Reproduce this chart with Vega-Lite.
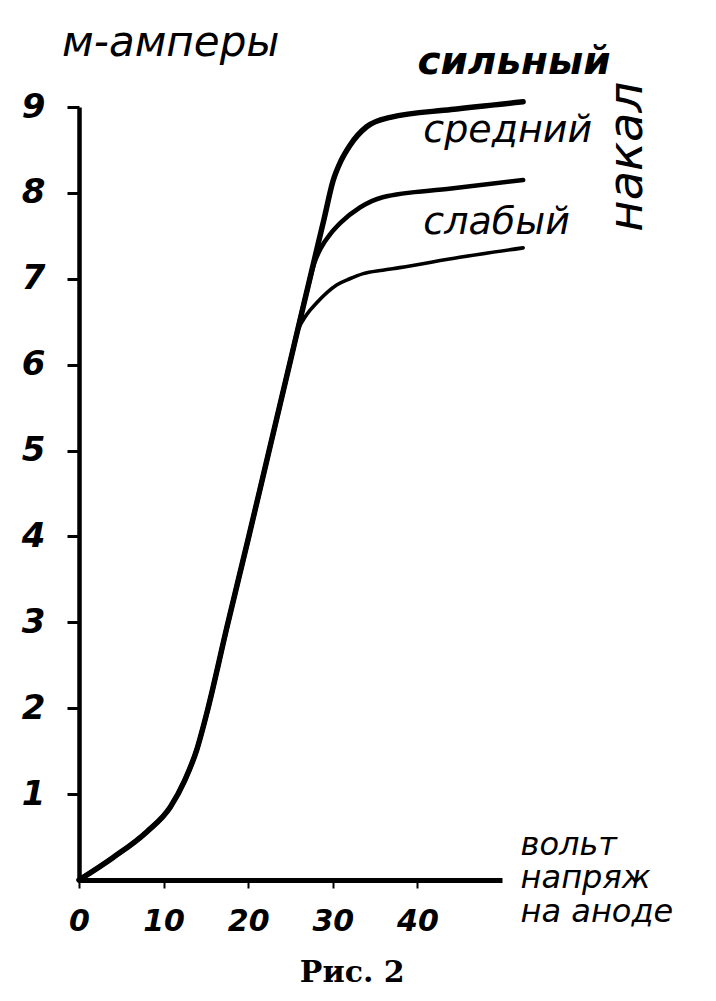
{
  "$schema": "https://vega.github.io/schema/vega-lite/v6.json",
  "width": 423,
  "height": 773,
  "autosize": {"type": "none"},
  "padding": {"left": 79, "top": 107, "right": 214, "bottom": 121},
  "background": "white",
  "view": {"stroke": null},
  "config": {
    "font": "DejaVu Sans",
    "axis": {"grid": false, "domainColor": "black", "tickColor": "black", "labelColor": "black", "labelFont": "DejaVu Sans", "labelFontStyle": "italic", "labelFontWeight": "bold"}
  },
  "layer": [
    {
      "data": {
        "values": [
          {"series": "сильный", "v": 0, "i": 0},
          {"series": "сильный", "v": 4.0, "i": 0.26},
          {"series": "сильный", "v": 8.0, "i": 0.56},
          {"series": "сильный", "v": 10.8, "i": 0.85},
          {"series": "сильный", "v": 12.5, "i": 1.16},
          {"series": "сильный", "v": 13.9, "i": 1.51},
          {"series": "сильный", "v": 15.1, "i": 1.94},
          {"series": "сильный", "v": 17.5, "i": 2.95},
          {"series": "сильный", "v": 20, "i": 3.97},
          {"series": "сильный", "v": 22.5, "i": 5.01},
          {"series": "сильный", "v": 25, "i": 6.05},
          {"series": "сильный", "v": 27.5, "i": 7.09},
          {"series": "сильный", "v": 29, "i": 7.71},
          {"series": "сильный", "v": 30, "i": 8.13},
          {"series": "сильный", "v": 31, "i": 8.38},
          {"series": "сильный", "v": 32, "i": 8.55},
          {"series": "сильный", "v": 34, "i": 8.77},
          {"series": "сильный", "v": 36.8, "i": 8.88},
          {"series": "сильный", "v": 44, "i": 8.97},
          {"series": "сильный", "v": 52.5, "i": 9.06},
          {"series": "средний", "v": 0, "i": 0},
          {"series": "средний", "v": 4.0, "i": 0.26},
          {"series": "средний", "v": 8.0, "i": 0.56},
          {"series": "средний", "v": 10.8, "i": 0.85},
          {"series": "средний", "v": 12.5, "i": 1.16},
          {"series": "средний", "v": 13.9, "i": 1.51},
          {"series": "средний", "v": 15.1, "i": 1.94},
          {"series": "средний", "v": 17.5, "i": 2.95},
          {"series": "средний", "v": 20, "i": 3.97},
          {"series": "средний", "v": 22.5, "i": 5.01},
          {"series": "средний", "v": 25, "i": 6.05},
          {"series": "средний", "v": 27.0, "i": 6.88},
          {"series": "средний", "v": 27.8, "i": 7.18},
          {"series": "средний", "v": 28.6, "i": 7.36},
          {"series": "средний", "v": 29.7, "i": 7.52},
          {"series": "средний", "v": 30.9, "i": 7.65},
          {"series": "средний", "v": 33.2, "i": 7.83},
          {"series": "средний", "v": 35.9, "i": 7.95},
          {"series": "средний", "v": 44, "i": 8.05},
          {"series": "средний", "v": 52.5, "i": 8.15},
          {"series": "слабый", "v": 0, "i": 0},
          {"series": "слабый", "v": 4.0, "i": 0.26},
          {"series": "слабый", "v": 8.0, "i": 0.56},
          {"series": "слабый", "v": 10.8, "i": 0.85},
          {"series": "слабый", "v": 12.5, "i": 1.16},
          {"series": "слабый", "v": 13.9, "i": 1.51},
          {"series": "слабый", "v": 15.1, "i": 1.94},
          {"series": "слабый", "v": 17.5, "i": 2.95},
          {"series": "слабый", "v": 20, "i": 3.97},
          {"series": "слабый", "v": 22.5, "i": 5.01},
          {"series": "слабый", "v": 25, "i": 6.05},
          {"series": "слабый", "v": 25.9, "i": 6.4},
          {"series": "слабый", "v": 26.9, "i": 6.58},
          {"series": "слабый", "v": 28.1, "i": 6.72},
          {"series": "слабый", "v": 30.5, "i": 6.93},
          {"series": "слабый", "v": 32.0, "i": 7.0},
          {"series": "слабый", "v": 33.6, "i": 7.06},
          {"series": "слабый", "v": 35.9, "i": 7.1},
          {"series": "слабый", "v": 37.9, "i": 7.13},
          {"series": "слабый", "v": 45, "i": 7.25},
          {"series": "слабый", "v": 52.5, "i": 7.36}
        ]
      },
      "mark": {"type": "line", "interpolate": "monotone", "color": "black", "strokeCap": "round"},
      "encoding": {
        "x": {
          "field": "v", "type": "quantitative",
          "scale": {"domain": [0, 50], "nice": false, "zero": false},
          "axis": {"title": null, "values": [0, 10, 20, 30, 40], "format": "d", "domainWidth": 5, "tickSize": 8, "tickWidth": 2, "labelFontSize": 30, "labelPadding": 18, "labelFlush": false}
        },
        "y": {
          "field": "i", "type": "quantitative",
          "scale": {"domain": [0, 9], "nice": false, "zero": false},
          "axis": {"title": null, "values": [1, 2, 3, 4, 5, 6, 7, 8, 9], "format": "d", "domainWidth": 4.5, "tickSize": 12, "tickWidth": 3, "labelFontSize": 34, "labelPadding": 22, "labelBaseline": "middle"}
        },
        "detail": {"field": "series"},
        "strokeWidth": {"field": "series", "type": "nominal", "scale": {"domain": ["сильный", "средний", "слабый"], "range": [5.5, 3.6, 4.3]}, "legend": null}
      }
    },
    {
      "data": {"values": [{}]},
      "mark": {"type": "text", "align": "left", "baseline": "middle", "fontSize": 42, "fontStyle": "italic", "color": "black"},
      "encoding": {"x": {"datum": -2.0, "type": "quantitative"}, "y": {"datum": 9.74, "type": "quantitative"}, "text": {"value": "м-амперы"}}
    },
    {
      "data": {"values": [{}]},
      "mark": {"type": "text", "align": "left", "baseline": "middle", "fontSize": 39, "fontStyle": "italic", "fontWeight": "bold", "color": "black"},
      "encoding": {"x": {"datum": 40, "type": "quantitative"}, "y": {"datum": 9.52, "type": "quantitative"}, "text": {"value": "сильный"}}
    },
    {
      "data": {"values": [{}]},
      "mark": {"type": "text", "align": "left", "baseline": "middle", "fontSize": 38, "fontStyle": "italic", "color": "black"},
      "encoding": {"x": {"datum": 40.7, "type": "quantitative"}, "y": {"datum": 8.72, "type": "quantitative"}, "text": {"value": "средний"}}
    },
    {
      "data": {"values": [{}]},
      "mark": {"type": "text", "align": "left", "baseline": "middle", "fontSize": 38, "fontStyle": "italic", "color": "black"},
      "encoding": {"x": {"datum": 40.7, "type": "quantitative"}, "y": {"datum": 7.65, "type": "quantitative"}, "text": {"value": "слабый"}}
    },
    {
      "data": {"values": [{}]},
      "mark": {"type": "text", "align": "center", "baseline": "middle", "fontSize": 48, "fontStyle": "italic", "angle": 270, "color": "black"},
      "encoding": {"x": {"datum": 64.9, "type": "quantitative"}, "y": {"datum": 8.42, "type": "quantitative"}, "text": {"value": "накал"}}
    },
    {
      "data": {"values": [{}]},
      "mark": {"type": "text", "align": "left", "baseline": "middle", "fontSize": 32, "fontStyle": "italic", "lineHeight": 33.5, "color": "black"},
      "encoding": {"x": {"datum": 52.2, "type": "quantitative"}, "y": {"datum": 0.41, "type": "quantitative"}, "text": {"value": ["вольт", "напряж", "на аноде"]}}
    },
    {
      "data": {"values": [{}]},
      "mark": {"type": "text", "align": "center", "baseline": "middle", "fontSize": 30, "font": "DejaVu Serif", "fontWeight": "bold", "color": "black"},
      "encoding": {"x": {"datum": 32.3, "type": "quantitative"}, "y": {"datum": -1.08, "type": "quantitative"}, "text": {"value": "Рис. 2"}}
    }
  ]
}
